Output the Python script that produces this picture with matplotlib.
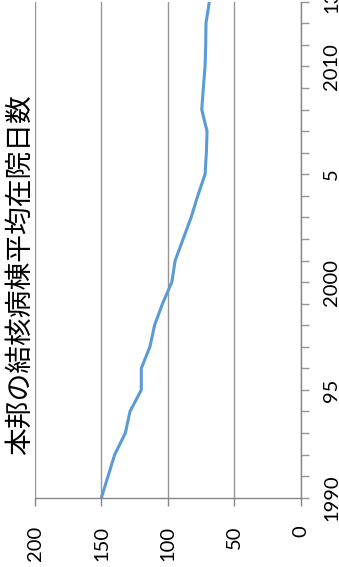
import matplotlib.pyplot as plt

# average length of stay (days) in tuberculosis wards, Japan
years = list(range(1990, 2014))
days = [150, 145, 140, 132, 128.5, 120, 120, 113.5, 110, 104,
        97, 94.5, 88.5, 82.5, 77.5, 72, 71, 70.5, 74.5, 73.3,
        72, 71.5, 71.3, 68.8]
year_labels = ["1990", "", "", "", "", "95", "", "", "", "",
               "2000", "", "", "", "", "5", "", "", "", "",
               "2010", "", "", "13"]
value_ticks = [0, 50, 100, 150, 200]
title = "本邦の結核病棟平均在院日数"

grid_col = "#969696"
axis_col = "#868686"

fig = plt.figure(figsize=(3.39, 5.67), dpi=100)
# the chart is drawn turned by 90 degrees: years go up, days go to the left
ax = fig.add_axes([35 / 339, 1 - 497.7 / 567, 265.7 / 339, 495.9 / 567])

ax.plot(days, years, color="#5b9bd5", lw=2.2, solid_capstyle="round")

ax.set_xlim(200, 0)
ax.set_ylim(1990, 2013)

ax.set_xticks(value_ticks)
ax.set_xticklabels([str(v) for v in value_ticks], rotation=90,
                   fontfamily="Lato", fontsize=14.5)
ax.set_yticks(years)
ax.set_yticklabels(year_labels, rotation=90, va="center",
                   fontfamily="Lato", fontsize=14.5)

ax.yaxis.tick_right()
ax.tick_params(axis="x", length=6, width=1, color=axis_col, pad=14)
ax.tick_params(axis="y", length=6, width=1, color=grid_col, pad=10)

ax.grid(axis="x", color=grid_col, lw=1)
ax.set_axisbelow(True)

for side in ["left", "top"]:
    ax.spines[side].set_visible(False)
ax.spines["bottom"].set_color(axis_col)
ax.spines["right"].set_color(axis_col)
ax.spines["bottom"].set_linewidth(1)
ax.spines["right"].set_linewidth(1)

fig.text(0.06, 0.515, title, rotation=90, ha="center", va="center",
         fontsize=20, family=["Noto Sans CJK JP", "DejaVu Sans"])

fig.savefig("out.png", dpi=100)
